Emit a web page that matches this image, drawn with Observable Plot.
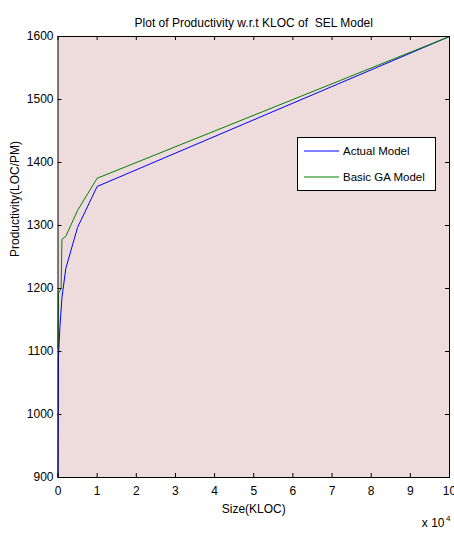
<!DOCTYPE html>
<html>
<head>
<meta charset="utf-8">
<script src="https://cdn.jsdelivr.net/npm/d3@7"></script>
<script src="https://cdn.jsdelivr.net/npm/@observablehq/plot@0.6"></script>
<style>
  body { margin: 0; background: white; }
  #wrap { position: relative; width: 454px; height: 534px; }
  #legend { position: absolute; left: 297px; top: 137px; }
</style>
</head>
<body>
<div id="wrap"></div>
<script>
const titleText = "Plot of Productivity w.r.t KLOC of  SEL Model";
const xLabel = "Size(KLOC)";
const yLabel = "Productivity(LOC/PM)";
const seriesNames = ["Actual Model", "Basic GA Model"];
const seriesColors = ["#0000ff", "#008000"];

// Size (LOC) and productivity values
const actualSize = [1, 100, 500, 1000, 2000, 5000, 10000, 100000];
const actualProd = [902, 1090, 1140, 1185, 1232, 1297, 1362, 1600];
const gaSize = [1, 100, 800, 1000, 2000, 5000, 10000, 100000];
const gaProd = [1105, 1192, 1200, 1278, 1283, 1324, 1375, 1600];

const xTicks = [0, 10000, 20000, 30000, 40000, 50000, 60000, 70000, 80000, 90000, 100000];
const xTickLabels = ["0", "1", "2", "3", "4", "5", "6", "7", "8", "9", "10"];
const yTicks = [900, 1000, 1100, 1200, 1300, 1400, 1500, 1600];

const actual = actualSize.map((s, i) => ({size: s, prod: actualProd[i]}));
const ga = gaSize.map((s, i) => ({size: s, prod: gaProd[i]}));

const W = 454, H = 534, mL = 57.5, mR = 5, mT = 36, mB = 57;
const innerW = W - mL - mR, innerH = H - mT - mB;
const font = "'Liberation Sans', Arial, Helvetica, sans-serif";

const chart = Plot.plot({
  width: W, height: H,
  marginLeft: mL, marginRight: mR, marginTop: mT, marginBottom: mB,
  x: {domain: [0, 100000], axis: null},
  y: {domain: [900, 1600], axis: null},
  style: {fontFamily: font, fontSize: "12px", background: "white", color: "black", overflow: "visible"},
  marks: [
    Plot.frame({fill: "#eedcdc"}),
    Plot.line(actual, {x: "size", y: "prod", stroke: seriesColors[0], strokeWidth: 1}),
    Plot.line(ga, {x: "size", y: "prod", stroke: seriesColors[1], strokeWidth: 1}),
    Plot.tickX(xTicks, {x: d => d, insetTop: innerH - 4, stroke: "black"}),
    Plot.tickX(xTicks, {x: d => d, insetBottom: innerH - 4, stroke: "black"}),
    Plot.tickY(yTicks, {y: d => d, insetRight: innerW - 4, stroke: "black"}),
    Plot.tickY(yTicks, {y: d => d, insetLeft: innerW - 4, stroke: "black"}),
    Plot.text(xTicks, {x: d => d, text: (d, i) => xTickLabels[i], frameAnchor: "bottom", dy: 17, fontSize: 12}),
    Plot.text(yTicks, {y: d => d, text: d => String(d), frameAnchor: "left", dx: -4.5, textAnchor: "end", fontSize: 12}),
    Plot.text([titleText], {frameAnchor: "top", dy: -18, fontSize: 12}),
    Plot.text([xLabel], {frameAnchor: "bottom", dy: 35, fontSize: 12}),
    Plot.text([yLabel], {frameAnchor: "left", dx: -43, rotate: -90, fontSize: 12}),
    Plot.text(["x 10"], {frameAnchor: "bottom-right", dx: -5, dy: 49, textAnchor: "end", fontSize: 12}),
    Plot.text(["4"], {frameAnchor: "bottom-right", dx: -3.5, dy: 43, textAnchor: "start", fontSize: 8}),
    Plot.frame({stroke: "black", strokeWidth: 1})
  ]
});
document.getElementById("wrap").appendChild(chart);

// Legend
const lg = d3.select("#wrap").append("svg").attr("id", "legend")
  .attr("width", 140).attr("height", 56)
  .style("font-family", font).style("font-size", "11.5px");
lg.append("rect").attr("x", 0.5).attr("y", 0.5).attr("width", 138).attr("height", 53)
  .attr("fill", "white").attr("stroke", "black");
seriesNames.forEach((name, i) => {
  const y = 14 + i * 26;
  lg.append("line").attr("x1", 7).attr("x2", 42).attr("y1", y).attr("y2", y)
    .attr("stroke", seriesColors[i]).attr("stroke-width", 1);
  lg.append("text").attr("x", 46).attr("y", y).attr("dy", "0.35em").attr("fill", "black").text(name);
});
</script>
</body>
</html>
